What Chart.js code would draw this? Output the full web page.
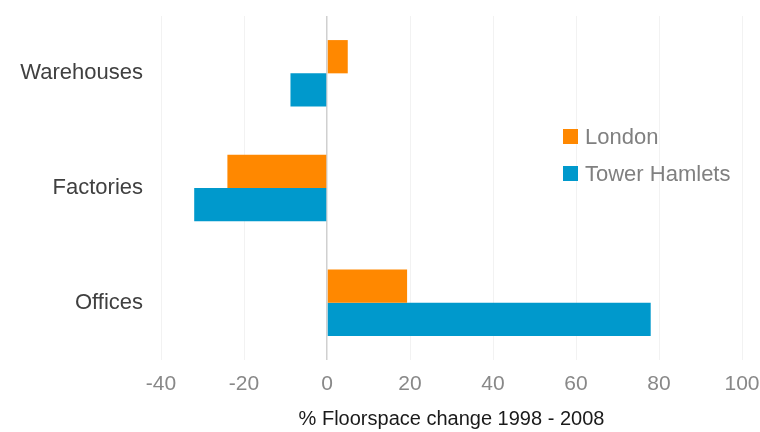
<!DOCTYPE html>
<html>
<head>
<meta charset="utf-8">
<script src="https://cdn.jsdelivr.net/npm/chart.js@4.4.0/dist/chart.umd.min.js"></script>
<style>
  body { margin: 0; background: #fff; }
  .wrap { position: relative; width: 760px; height: 432px; }
  .legend { position: absolute; left: 563px; top: 118px; font-family: "Liberation Sans", Arial, sans-serif; font-size: 22px; color: #808080; }
  .legend div { height: 37px; display: flex; align-items: center; }
  .legend span.box { display: inline-block; width: 15px; height: 15px; margin-right: 7px; }
</style>
</head>
<body>
<div class="wrap">
  <canvas id="myChart" width="760" height="432"></canvas>
  <div class="legend" id="legend"></div>
</div>
<script>
const categorias = ['Warehouses', 'Factories', 'Offices'];
const londres = [5, -24, 19.3];
const towerHamlets = [-8.8, -32, 78];
const ticksX = [-40, -20, 0, 20, 40, 60, 80, 100];

const colores = ['#FF8800', '#0099CC'];
const nombres = ['London', 'Tower Hamlets'];

// leyenda en html, a la derecha
document.getElementById('legend').innerHTML = nombres.map((n, i) =>
  `<div><span class="box" style="background:${colores[i]}"></span>${n}</div>`).join('');

const ctx = document.getElementById('myChart');
const fuente = '"Liberation Sans", Arial, sans-serif';

new Chart(ctx, {
  type: 'bar',
  data: {
    labels: categorias,
    datasets: [
      { label: nombres[0], data: londres, backgroundColor: colores[0] },
      { label: nombres[1], data: towerHamlets, backgroundColor: colores[1] }
    ]
  },
  options: {
    indexAxis: 'y',
    responsive: false,
    animation: false,
    layout: { padding: { top: 16, right: 18, left: 0, bottom: 0 } },
    datasets: { bar: { categoryPercentage: 0.58, barPercentage: 1 } },
    plugins: {
      legend: { display: false },
      tooltip: { enabled: false }
    },
    scales: {
      x: {
        min: ticksX[0],
        max: ticksX[ticksX.length - 1],
        afterBuildTicks: s => { s.ticks = ticksX.map(v => ({ value: v })); },
        afterFit: s => { s.height = 72; s.paddingLeft = 0; s.paddingRight = 0; },
        grid: {
          drawTicks: false,
          color: c => (c.tick && c.tick.value === 0) ? '#d0d0d0' : '#f2f2f2',
          lineWidth: c => (c.tick && c.tick.value === 0) ? 1.5 : 1
        },
        border: { display: false },
        ticks: {
          color: '#888888',
          padding: 12,
          font: { family: fuente, size: 21 }
        },
        title: {
          display: true,
          text: '% Floorspace change 1998 - 2008',
          color: '#1a1a1a',
          padding: { top: 4, bottom: 1 },
          font: { family: fuente, size: 20 }
        }
      },
      y: {
        afterFit: s => { s.width = 161; s.paddingTop = 0; s.paddingBottom = 0; },
        grid: { display: false },
        border: { display: false },
        ticks: {
          color: '#404040',
          padding: 10,
          font: { family: fuente, size: 22 }
        }
      }
    }
  }
});
</script>
</body>
</html>
